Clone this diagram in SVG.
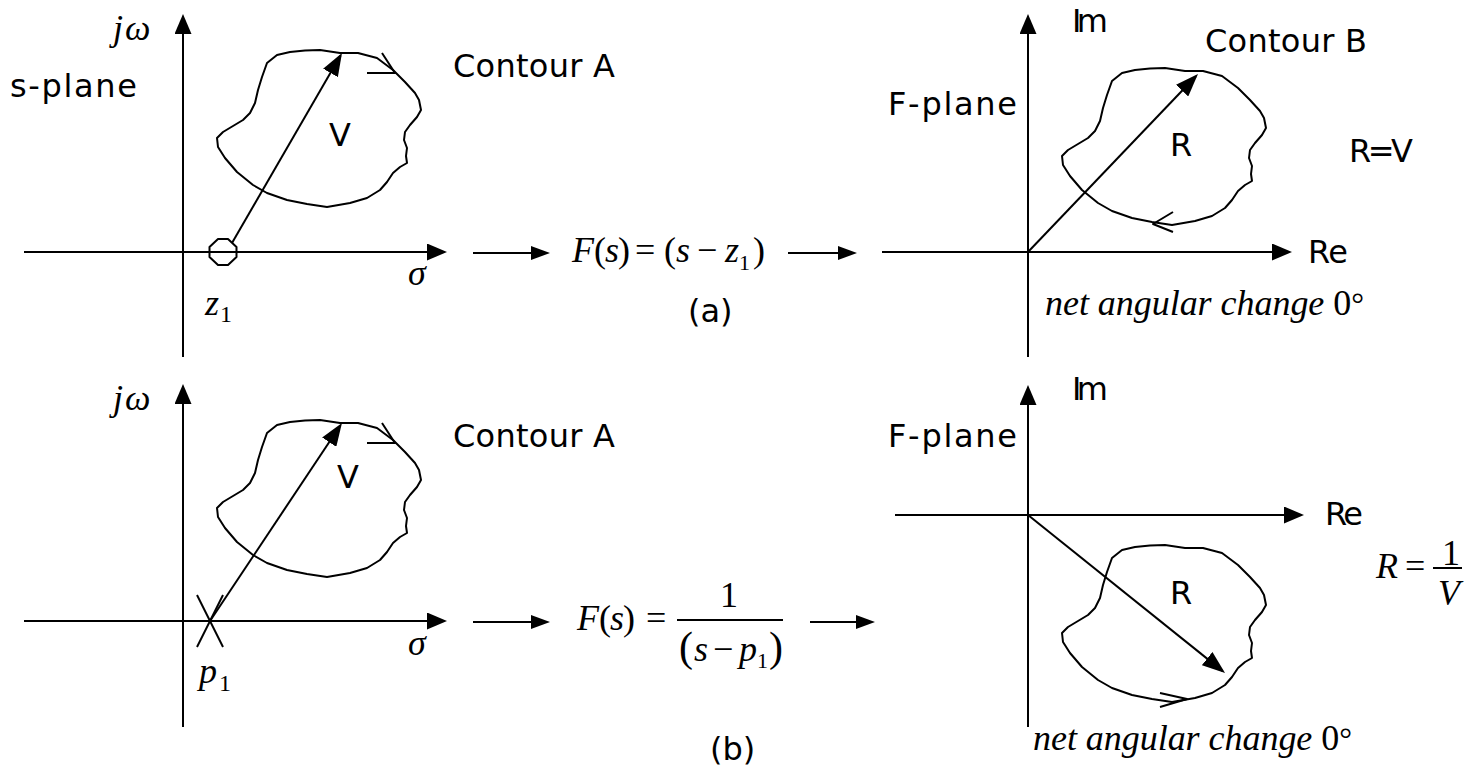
<svg xmlns="http://www.w3.org/2000/svg" width="1468" height="771" viewBox="0 0 1468 771">
<style>
.ax{stroke:#000;stroke-width:2;fill:none}
.bl{stroke:#000;stroke-width:2;fill:none;stroke-linejoin:round}
.sans{font-family:"DejaVu Sans","Liberation Sans",sans-serif;font-size:32px;fill:#000}
.ser{font-family:"Liberation Serif","Times New Roman",serif;font-size:36px;fill:#000}
.it{font-style:italic}
</style>
<defs>
<marker id="ah" markerUnits="userSpaceOnUse" viewBox="0 0 20 17" markerWidth="20" markerHeight="17" refX="17" refY="8.5" orient="auto"><path d="M0,0 L20,8.5 L0,17 z" fill="#000"/></marker>
<marker id="vh" markerUnits="userSpaceOnUse" viewBox="0 0 23 17" markerWidth="23" markerHeight="17" refX="20" refY="8.5" orient="auto"><path d="M0,0 L23,8.5 L0,17 z" fill="#000"/></marker>
<marker id="sh" markerUnits="userSpaceOnUse" viewBox="0 0 19 14" markerWidth="19" markerHeight="14" refX="16" refY="7" orient="auto"><path d="M0,0 L19,7 L0,14 z" fill="#000"/></marker>
<path id="blob" d="M267,63 L277,55 L290,52 L305,50.5 L320,50 L340,53 L358,53 L377,58 L393,70 L405,82 L415,93 L419,100 L421,110 L417,117 L410,125 L405,132 L404,140 L407,148 L406,156 L407,163 L400,167 L393,173 L387,182 L380,190 L367,198 L350,203 L327,207 L307,204 L287,200 L267,193 L253,185 L237,172 L225,158 L218,147 L217,138 L223,132 L233,126 L243,120 L250,113 L255,103 L258,90 L262,77 Z"/>
</defs>
<rect width="1468" height="771" fill="#fff"/>

<g id="s-plane-a">
<line class="ax" x1="183" y1="357" x2="183" y2="17" marker-end="url(#ah)"/>
<line class="ax" x1="24" y1="252" x2="444" y2="252" marker-end="url(#ah)"/>
<use href="#blob" class="bl"/>
<polyline class="bl" points="367,73 395,73 382,53"/>
<polygon class="bl" points="218,239 228,239 236.5,247 236.5,257 228,265 218,265 209.5,257 209.5,247" fill="#fff"/>
<line class="ax" x1="232" y1="243" x2="340.5" y2="55.6" marker-end="url(#vh)"/>
<text class="ser it" x="113" y="40" letter-spacing="2">jω</text>
<text class="sans" x="10" y="97" textLength="127">s-plane</text>
<text class="sans" x="453" y="77" textLength="162">Contour A</text>
<text class="sans" x="340" y="146" text-anchor="middle">V</text>
<text class="ser it" x="408" y="285">σ</text>
<text class="ser" x="205" y="315"><tspan class="it">z</tspan><tspan x="220" y="322" font-size="24">1</tspan></text>
</g>

<g id="f-plane-a">
<line class="ax" x1="1028" y1="357" x2="1028" y2="17" marker-end="url(#ah)"/>
<line class="ax" x1="882" y1="252" x2="1289" y2="252" marker-end="url(#ah)"/>
<use href="#blob" class="bl" transform="translate(845,18)"/>
<polyline class="bl" points="1173,212 1153,224 1173,232"/>
<line class="ax" x1="1028" y1="252" x2="1195.9" y2="76.2" marker-end="url(#vh)"/>
<text class="sans" x="1072" y="32" textLength="36">Im</text>
<text class="sans" x="1205" y="52" textLength="162">Contour B</text>
<text class="sans" x="888" y="115" textLength="129">F-plane</text>
<text class="sans" x="1181" y="156" text-anchor="middle">R</text>
<text class="sans" x="1349" y="162" textLength="64">R=V</text>
<text class="sans" x="1308" y="263" textLength="40">Re</text>
<text class="ser" x="1045" y="315" font-size="38" textLength="319"><tspan class="it">net angular change </tspan>0<tspan font-size="32">°</tspan></text>
</g>

<g id="formula-a">
<text class="ser" y="262" font-size="34"><tspan class="it" x="572">F</tspan><tspan x="594">(</tspan><tspan class="it" x="605">s</tspan><tspan x="618">)</tspan><tspan x="635">=</tspan><tspan x="664">(</tspan><tspan class="it" x="676">s</tspan><tspan x="697">−</tspan><tspan class="it" x="725">z</tspan><tspan x="739" y="270" font-size="22">1</tspan><tspan x="753" y="262">)</tspan></text>
<text class="sans" x="688" y="322">(a)</text>
</g>

<g id="s-plane-b">
<line class="ax" x1="183" y1="727" x2="183" y2="387" marker-end="url(#ah)"/>
<line class="ax" x1="24" y1="621" x2="444" y2="621" marker-end="url(#ah)"/>
<use href="#blob" class="bl" transform="translate(0,370)"/>
<polyline class="bl" points="367,443 395,443 382,423"/>
<line class="ax" x1="197" y1="595" x2="223" y2="647"/>
<line class="ax" x1="223" y1="595" x2="197" y2="647"/>
<line class="ax" x1="210" y1="621" x2="340.3" y2="425.5" marker-end="url(#vh)"/>
<text class="ser it" x="113" y="410" letter-spacing="2">jω</text>
<text class="sans" x="453" y="447" textLength="162">Contour A</text>
<text class="sans" x="348" y="488" text-anchor="middle">V</text>
<text class="ser it" x="408" y="655">σ</text>
<text class="ser" x="199" y="683"><tspan class="it">p</tspan><tspan x="219" y="691" font-size="24">1</tspan></text>
</g>

<g id="f-plane-b">
<line class="ax" x1="1028" y1="727" x2="1028" y2="388" marker-end="url(#ah)"/>
<line class="ax" x1="895" y1="515" x2="1301" y2="515" marker-end="url(#ah)"/>
<use href="#blob" class="bl" transform="translate(845,495)"/>
<polyline class="bl" points="1160,693 1187,699 1160,707"/>
<line class="ax" x1="1028" y1="515" x2="1222.7" y2="671.1" marker-end="url(#vh)"/>
<text class="sans" x="1072" y="400" textLength="36">Im</text>
<text class="sans" x="888" y="447" textLength="129">F-plane</text>
<text class="sans" x="1325" y="525" textLength="38">Re</text>
<text class="sans" x="1181" y="604" text-anchor="middle">R</text>
<text class="ser" x="1033" y="750" font-size="38" textLength="319"><tspan class="it">net angular change </tspan>0<tspan font-size="32">°</tspan></text>
<text class="ser it" x="1376" y="578">R</text>
<text class="ser" x="1405" y="578">=</text>
<line class="ax" x1="1433" y1="568" x2="1462" y2="568" stroke-width="1.5"/>
<text class="ser" x="1451" y="565" text-anchor="middle">1</text>
<text class="ser it" x="1449" y="605" text-anchor="middle">V</text>
</g>

<g id="formula-b">
<text class="ser" y="630" font-size="34"><tspan class="it" x="577">F</tspan><tspan x="599">(</tspan><tspan class="it" x="610">s</tspan><tspan x="623">)</tspan><tspan x="646">=</tspan></text>
<text class="ser" x="729" y="607" text-anchor="middle" font-size="34">1</text>
<line class="ax" x1="677" y1="620" x2="783" y2="620" stroke-width="1.5"/>
<text class="ser" y="661" font-size="34"><tspan x="679" font-size="42">(</tspan><tspan class="it" x="694">s</tspan><tspan x="713">−</tspan><tspan class="it" x="739">p</tspan><tspan x="757" y="668" font-size="22">1</tspan><tspan x="769" y="661" font-size="42">)</tspan></text>
<text class="sans" x="710" y="760">(b)</text>
</g>

<g id="connectors">
<line class="ax" x1="473" y1="253" x2="547" y2="253" marker-end="url(#sh)"/>
<line class="ax" x1="788" y1="253" x2="854" y2="253" marker-end="url(#sh)"/>
<line class="ax" x1="473" y1="622" x2="547" y2="622" marker-end="url(#sh)"/>
<line class="ax" x1="810" y1="622" x2="872" y2="622" marker-end="url(#sh)"/>
</g>
</svg>
